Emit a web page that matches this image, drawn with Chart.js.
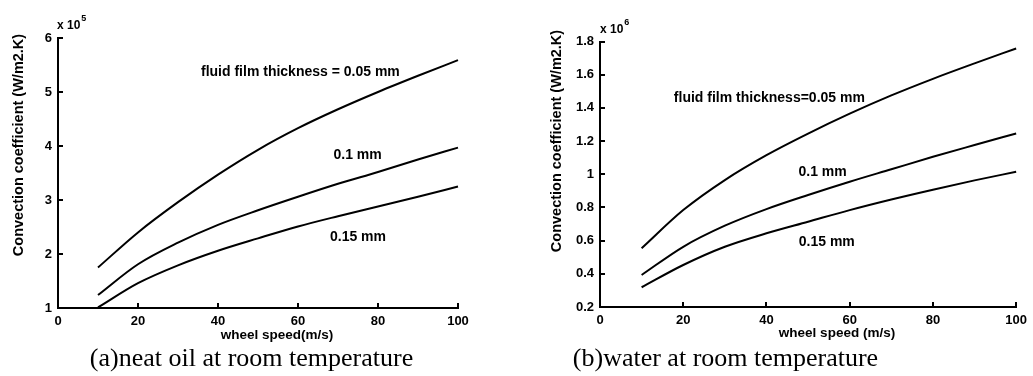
<!DOCTYPE html>
<html><head><meta charset="utf-8">
<script src="https://cdn.jsdelivr.net/npm/chart.js@4/dist/chart.umd.min.js"></script>
<style>
html,body{margin:0;padding:0;background:#fff;}
#wrap{position:relative;width:1033px;height:376px;overflow:hidden;background:#fff;}
canvas{position:absolute;top:0;}
.cap{position:absolute;top:345px;font-family:"Liberation Serif","Times New Roman",serif;font-size:26px;line-height:26px;color:#000;white-space:nowrap;text-align:center;}
</style></head><body>
<div id="wrap">
<canvas id="c1" width="516" height="376" style="left:0"></canvas>
<canvas id="c2" width="517" height="376" style="left:516px"></canvas>
<div class="cap" style="left:0;width:503px">(a)neat oil at room temperature</div>
<div class="cap" style="left:451px;width:549px">(b)water at room temperature</div>
</div>
<script>
// ---- data ----
const speeds = [10, 20, 30, 40, 50, 60, 70, 80, 90, 100];            // wheel speed (m/s)
// (a) neat oil, convection coefficient in units of 10^5 W/m2.K
const oil005 = [1.75, 2.40, 2.96, 3.47, 3.93, 4.33, 4.68, 5.00, 5.30, 5.59];
const oil010 = [1.24, 1.81, 2.21, 2.54, 2.81, 3.06, 3.30, 3.52, 3.75, 3.97];
const oil015 = [1.01, 1.46, 1.79, 2.06, 2.29, 2.51, 2.70, 2.88, 3.06, 3.25];
// (b) water, convection coefficient in units of 10^6 W/m2.K
const water005 = [0.554, 0.784, 0.965, 1.115, 1.245, 1.365, 1.475, 1.575, 1.668, 1.758];
const water010 = [0.393, 0.563, 0.690, 0.790, 0.875, 0.955, 1.030, 1.105, 1.176, 1.246];
const water015 = [0.319, 0.453, 0.563, 0.644, 0.714, 0.784, 0.848, 0.907, 0.963, 1.015];
// tick labels
const xTickVals = [0, 20, 40, 60, 80, 100];
const oilYTicks = [1, 2, 3, 4, 5, 6];
const waterYTicks = [0.2, 0.4, 0.6, 0.8, 1, 1.2, 1.4, 1.6, 1.8];
// curve labels
const oilNotes = [
  {text: 'fluid film thickness = 0.05 mm', x: 60.6, y: 5.37},
  {text: '0.1 mm', x: 74.9, y: 3.83},
  {text: '0.15 mm', x: 75.0, y: 2.31}
];
const waterNotes = [
  {text: 'fluid film thickness=0.05 mm', x: 40.7, y: 1.46},
  {text: '0.1 mm', x: 53.5, y: 1.01},
  {text: '0.15 mm', x: 54.5, y: 0.59}
];

const FONT = '"Liberation Sans", Arial, sans-serif';
function pts(ys) { return speeds.map((x, i) => ({x: x, y: ys[i]})); }
function ds(ys) {
  return {data: pts(ys), borderColor: '#000', borderWidth: 2, pointRadius: 0,
          cubicInterpolationMode: 'monotone', fill: false, clip: false};
}

const decor = {
  id: 'decor',
  afterDraw(chart, args, o) {
    const ctx = chart.ctx;
    const {left, top, bottom} = chart.chartArea;
    const xs = chart.scales.x, ys = chart.scales.y;
    ctx.save();
    ctx.strokeStyle = '#000'; ctx.lineWidth = 2;
    ys.ticks.forEach(t => {
      const py = Math.round(ys.getPixelForValue(t.value));
      ctx.beginPath(); ctx.moveTo(left, py); ctx.lineTo(left + 5, py); ctx.stroke();
    });
    xs.ticks.forEach(t => {
      const px = Math.round(xs.getPixelForValue(t.value));
      ctx.beginPath(); ctx.moveTo(px, bottom); ctx.lineTo(px, bottom - 5); ctx.stroke();
    });
    ctx.fillStyle = '#000';
    // exponent
    ctx.textAlign = 'left'; ctx.textBaseline = 'alphabetic';
    ctx.font = 'bold 12px ' + FONT;
    ctx.fillText('x 10', left + o.expDx, top + o.expDy);
    const w = ctx.measureText('x 10').width;
    ctx.font = 'bold 9px ' + FONT;
    ctx.fillText(o.exp, left + o.expDx + w + 1, top + o.expDy - 8);
    // curve labels
    ctx.textAlign = 'center'; ctx.textBaseline = 'middle';
    ctx.font = 'bold 14px ' + FONT;
    o.notes.forEach(n => ctx.fillText(n.text, xs.getPixelForValue(n.x), ys.getPixelForValue(n.y)));
    // axis titles
    ctx.font = 'bold 13.5px ' + FONT;
    ctx.fillText(o.xTitle, left + o.xTitleDx, bottom + o.xTitleDy);
    ctx.translate(o.yTitleX, o.yTitleY);
    ctx.rotate(-Math.PI / 2);
    ctx.font = 'bold 14.5px ' + FONT;
    ctx.fillText(o.yTitle, 0, 0);
    ctx.restore();
  }
};

function makeChart(id, sets, yMin, yMax, yTicks, yWidth, xHeight, pad, deco) {
  return new Chart(document.getElementById(id), {
    type: 'line',
    data: {datasets: sets.map(ds)},
    options: {
      responsive: false, animation: false, devicePixelRatio: 1,
      layout: {padding: pad},
      plugins: {legend: {display: false}, tooltip: {enabled: false}, decor: deco},
      scales: {
        x: {type: 'linear', min: 0, max: 100,
            afterBuildTicks: s => { s.ticks = xTickVals.map(v => ({value: v})); },
            grid: {display: false, drawTicks: false},
            border: {display: true, color: '#000', width: 2},
            ticks: {color: '#000', font: {family: FONT, size: 13, weight: 'bold'}, padding: 6, maxRotation: 0, autoSkip: false,
                    callback: v => String(v)},
            afterFit: s => { s.height = xHeight; }},
        y: {type: 'linear', min: yMin, max: yMax,
            afterBuildTicks: s => { s.ticks = yTicks.map(v => ({value: v})); },
            grid: {display: false, drawTicks: false},
            border: {display: true, color: '#000', width: 2},
            ticks: {color: '#000', font: {family: FONT, size: 13, weight: 'bold'}, padding: 6, autoSkip: false,
                    callback: v => String(Math.round(v * 10) / 10)},
            afterFit: s => { s.width = yWidth; }}
      }
    },
    plugins: [decor]
  });
}

makeChart('c1', [oil005, oil010, oil015], 1, 6, oilYTicks, 58, 68,
  {top: 38, right: 58, left: 0, bottom: 0},
  {exp: '5', expDx: -1, expDy: -9, notes: oilNotes,
   xTitle: 'wheel speed(m/s)', xTitleDx: 219, xTitleDy: 27,
   yTitle: 'Convection coefficient (W/m2.K)', yTitleX: 19, yTitleY: 145});

makeChart('c2', [water005, water010, water015], 0.2, 1.8, waterYTicks, 84, 69,
  {top: 41.5, right: 14, left: 0, bottom: 0},
  {exp: '6', expDx: 0, expDy: -8.5, notes: waterNotes,
   xTitle: 'wheel speed (m/s)', xTitleDx: 237, xTitleDy: 26,
   yTitle: 'Convection coefficient (W/m2.K)', yTitleX: 41, yTitleY: 141});
</script>
</body></html>
